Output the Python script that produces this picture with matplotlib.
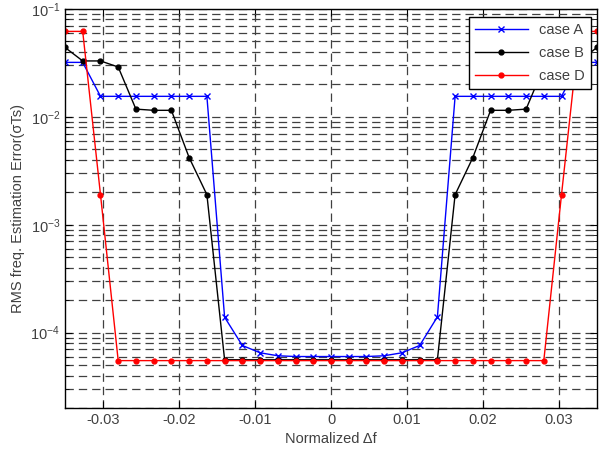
import numpy as np
import matplotlib
matplotlib.use("Agg")
import matplotlib.pyplot as plt
from matplotlib.ticker import LogLocator, NullFormatter

plt.rcParams['font.family'] = ['Liberation Sans', 'DejaVu Sans']
plt.rcParams['mathtext.fontset'] = 'custom'
plt.rcParams['mathtext.rm'] = 'Liberation Sans'
plt.rcParams['mathtext.it'] = 'Liberation Sans:italic'
plt.rcParams['lines.scale_dashes'] = False

x_vals = [-0.035, -0.03267, -0.03033, -0.028, -0.02567, -0.02333, -0.021, -0.01867,
          -0.01633, -0.014, -0.01167, -0.00933, -0.007, -0.00467, -0.00233, 0.0,
          0.00233, 0.00467, 0.007, 0.00933, 0.01167, 0.014, 0.01633, 0.01867,
          0.021, 0.02333, 0.02567, 0.028, 0.03033, 0.03267, 0.035]

case_A = [0.032, 0.032, 0.0155, 0.0155, 0.0155, 0.0155, 0.0155, 0.0155, 0.0155,
          1.39e-4, 7.6e-5, 6.5e-5, 6.1e-5, 6.0e-5, 6.0e-5, 6.0e-5, 6.0e-5, 6.0e-5,
          6.1e-5, 6.5e-5, 7.6e-5, 1.4e-4,
          0.0155, 0.0155, 0.0155, 0.0155, 0.0155, 0.0155, 0.0155, 0.032, 0.032]

case_B = [0.044, 0.033, 0.033, 0.029, 0.0118, 0.0115, 0.0115, 0.0042, 0.0019,
          5.6e-5, 5.6e-5, 5.6e-5, 5.6e-5, 5.6e-5, 5.6e-5, 5.6e-5, 5.6e-5, 5.6e-5,
          5.6e-5, 5.6e-5, 5.6e-5, 5.6e-5,
          0.0019, 0.0042, 0.0115, 0.0115, 0.0118, 0.029, 0.033, 0.033, 0.044]

case_D = [0.062, 0.062, 0.0019] + [5.5e-5] * 25 + [0.0019, 0.062, 0.062]

labels = ['case A', 'case B', 'case D']
x_ticks = [-0.03, -0.02, -0.01, 0, 0.01, 0.02, 0.03]
x_ticklabels = ['-0.03', '-0.02', '-0.01', '0', '0.01', '0.02', '0.03']

fs = 10.5
txt = '#404040'
fig = plt.figure(figsize=(6.0, 4.51), dpi=100)
ax = fig.add_axes([65/600, 43/451, 532/600, 399/451])

ax.plot(x_vals, case_A, color='#0000ff', lw=1.0, marker='x', ms=4, mew=1.0, label=labels[0])
ax.plot(x_vals, case_B, color='black', lw=1.0, marker='o', ms=3.5, label=labels[1])
ax.plot(x_vals, case_D, color='#ff0000', lw=1.0, marker='o', ms=3.5, label=labels[2])

ax.set_yscale('log')
ax.set_xlim(-0.035, 0.035)
ax.set_ylim(2e-5, 1e-1)
ax.set_xticks(x_ticks)
ax.set_xticklabels(x_ticklabels)
ax.yaxis.set_major_locator(LogLocator(base=10, numticks=10))
ax.yaxis.set_minor_locator(LogLocator(base=10, subs=np.arange(2, 10), numticks=20))
ax.yaxis.set_minor_formatter(NullFormatter())

grid_style = dict(color='0.25', linestyle=(0, (6.0, 3.6)), linewidth=0.9)
ax.grid(True, which='major', axis='both', **grid_style)
ax.grid(True, which='minor', axis='y', **grid_style)

ax.tick_params(which='both', direction='in', top=True, right=True, labelsize=fs,
               color='black', labelcolor=txt)
ax.tick_params(which='major', length=5)
ax.tick_params(which='minor', length=3)
for sp in ax.spines.values():
    sp.set_linewidth(1.0)
    sp.set_color('black')

ax.set_xlabel('Normalized Δf', fontsize=fs, color=txt)
ax.set_ylabel('RMS freq. Estimation Error(σTs)', fontsize=fs, color=txt)

leg = ax.legend(loc='upper right', bbox_to_anchor=(591/600, 1 - 17/451),
                bbox_transform=fig.transFigure, borderaxespad=0, fancybox=False,
                framealpha=1, edgecolor='black', fontsize=fs, handlelength=3.6,
                labelspacing=0.62)
leg.get_frame().set_linewidth(1.0)
for t in leg.get_texts():
    t.set_color(txt)

fig.savefig('out.png', dpi=100)
